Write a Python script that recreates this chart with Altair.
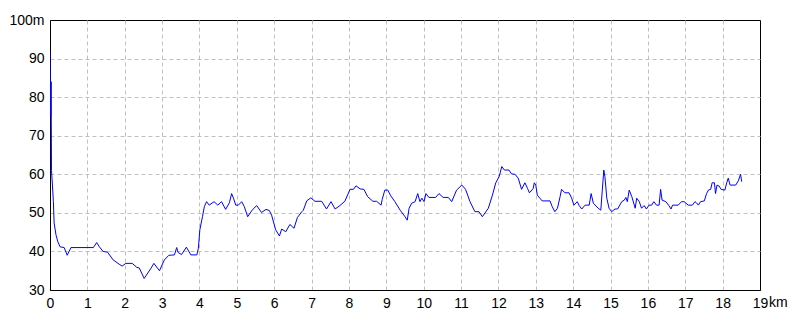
import altair as alt
import pandas as pd

km = [0, 0.02, 0.03, 0.04, 0.06, 0.09, 0.11, 0.16, 0.21, 0.27, 0.38, 0.46, 0.56, 1.16, 1.25, 1.32, 1.42, 1.54, 1.69, 1.85,
      1.93, 2.03, 2.2, 2.32, 2.39, 2.52, 2.7, 2.78, 2.93, 3.06, 3.18, 3.33, 3.39, 3.43, 3.52, 3.65, 3.77, 3.93, 3.97, 4.01,
      4.08, 4.13, 4.19, 4.26, 4.39, 4.49, 4.59, 4.70, 4.80, 4.86, 4.91, 4.97, 5.04, 5.13, 5.20, 5.29, 5.41, 5.53, 5.66, 5.78,
      5.87, 5.93, 6.04, 6.14, 6.20, 6.31, 6.42, 6.53, 6.62, 6.74, 6.78, 6.87, 6.98, 7.09, 7.27, 7.40, 7.52, 7.63, 7.76, 7.89,
      8.03, 8.12, 8.19, 8.30, 8.40, 8.50, 8.64, 8.74, 8.86, 8.89, 8.96, 9.04, 9.12, 9.23, 9.37, 9.50, 9.56, 9.61, 9.68, 9.77,
      9.84, 9.90, 9.95, 10.01, 10.06, 10.14, 10.32, 10.41, 10.52, 10.66, 10.75, 10.88, 11.02, 11.12, 11.24, 11.37, 11.48, 11.57, 11.73, 11.84,
      11.93, 12.02, 12.09, 12.16, 12.28, 12.35, 12.44, 12.53, 12.62, 12.71, 12.78, 12.83, 12.93, 12.96, 13.00, 13.04, 13.11, 13.17, 13.38, 13.44,
      13.51, 13.58, 13.65, 13.69, 13.78, 13.89, 13.96, 14.02, 14.11, 14.16, 14.23, 14.32, 14.43, 14.48, 14.54, 14.67, 14.74, 14.78, 14.82, 14.85,
      14.90, 14.96, 15.03, 15.12, 15.19, 15.30, 15.37, 15.41, 15.45, 15.50, 15.57, 15.66, 15.70, 15.77, 15.83, 15.90, 15.96, 16.03, 16.10, 16.16,
      16.23, 16.30, 16.34, 16.38, 16.48, 16.56, 16.62, 16.66, 16.81, 16.90, 16.97, 17.08, 17.19, 17.26, 17.30, 17.35, 17.41, 17.51, 17.57, 17.62,
      17.68, 17.72, 17.78, 17.81, 17.85, 17.90, 17.96, 18.06, 18.11, 18.15, 18.20, 18.35, 18.42, 18.48, 18.51]

elev = [92, 75, 84, 61, 58, 53, 47.4, 44.3, 42.5, 41.2, 41, 39, 41, 41, 42.3, 41.2, 40, 39.8, 37.8, 36.7,
        36.2, 36.9, 36.9, 35.9, 35.7, 33, 35.6, 36.9, 35, 37.8, 39, 39.1, 41, 39.7, 39.2, 41.1, 39.1, 39.1, 40.8, 45.6,
        49, 51.6, 52.9, 52, 52.9, 52, 52.9, 50.9, 52.6, 55, 53.8, 52, 52, 52.9, 51.6, 49, 50.7, 51.9, 50.1, 50.9,
        50.6, 49.4, 45.6, 44, 45.8, 45.1, 47, 46, 48.8, 50.3, 50.7, 53.1, 53.9, 53, 53, 51, 52.9, 51, 51.9, 53,
        56.1, 56.1, 57, 56.2, 56.1, 54.2, 53, 53, 52, 53.5, 55.9, 55.9, 54.4, 52.9, 50.7, 49, 48.1, 51.2, 52.5, 52.9,
        55, 52.9, 53.8, 52.9, 55, 54, 54, 55, 54, 54, 52.9, 55.9, 57.2, 56.1, 52.9, 50.3, 50.3, 49, 51.2, 54.6,
        57.8, 59.4, 62, 61.1, 61.1, 60.1, 60, 59, 56.1, 57.8, 56.3, 55.2, 56.3, 57.8, 57.2, 54.6, 53.8, 53.1, 53.1, 51.6,
        50.3, 51.2, 54.2, 56.1, 55.2, 55.2, 53.8, 52, 52.9, 51.9, 51, 52, 52, 55, 52.5, 51.2, 50.7, 55.9, 61.1, 59.4,
        53.8, 51.2, 50.3, 51, 51, 52.9, 53.3, 54, 52.9, 55.9, 54.2, 51.2, 53.8, 52.9, 51.2, 51.9, 51, 52, 52, 52.9,
        52, 52, 56.1, 53.3, 52.9, 51.9, 51, 52, 52, 52.9, 52.9, 52, 52, 52.9, 52.6, 52, 52.9, 53.1, 55, 55.9,
        56.1, 57.8, 57.8, 55, 57.2, 57, 56.1, 55.9, 57.8, 59, 57.2, 57.2, 58.3, 60, 58.1]

x_ticks = list(range(0, 20))
y_ticks = [30, 40, 50, 60, 70, 80, 90, 100]

df = pd.DataFrame({"km": km, "elev": elev, "idx": list(range(len(km)))})

FONT = "Liberation Sans"

x_scale = alt.Scale(domain=[0, 19], nice=False, zero=False)
x_axis = alt.Axis(values=x_ticks, title=None, ticks=False, labelPadding=6,
                  labelFont=FONT, labelFontSize=14, labelColor="black",
                  domainColor="black", domainWidth=1,
                  gridColor="#c0c0c0", gridDash=[4, 3], gridWidth=1,
                  gridOpacity={"condition": {"test": "datum.value == 19 || datum.value == 0", "value": 0}, "value": 1},
                  labelFlush=False, labelOverlap=False)

line = alt.Chart(df).mark_line(color="#0000ff", strokeWidth=1, clip=True).encode(
    x=alt.X("km:Q", scale=x_scale, axis=x_axis),
    y=alt.Y("elev:Q",
            scale=alt.Scale(domain=[30, 100], nice=False, zero=False),
            axis=alt.Axis(values=y_ticks, title=None, ticks=False, labelPadding=6,
                          labelFont=FONT, labelFontSize=14, labelColor="black",
                          labelExpr="datum.value == 100 ? '100m' : datum.label",
                          domainColor="black", domainWidth=1,
                          gridColor="#c0c0c0", gridDash=[4, 3], gridWidth=1,
                          gridOpacity={"condition": {"test": "datum.value == 100 || datum.value == 30", "value": 0}, "value": 1},
                          labelFlush=False, labelOverlap=False)),
    order="idx:Q",
)

unit = alt.Chart(pd.DataFrame({"x": [19], "t": ["km"]})).mark_text(
    align="left", baseline="top", dx=9, dy=6, font=FONT, fontSize=14, color="black"
).encode(x=alt.X("x:Q", scale=x_scale, axis=x_axis), y=alt.value(270), text="t:N")

chart = alt.layer(line, unit).properties(
    width=710, height=270,
    autosize=alt.AutoSizeParams(type="none"),
    padding={"left": 50, "top": 20, "right": 40, "bottom": 30},
    background="white",
).configure_view(stroke="black", strokeWidth=1)

chart.save("out.html", embed_options={"renderer": "svg", "actions": False})
